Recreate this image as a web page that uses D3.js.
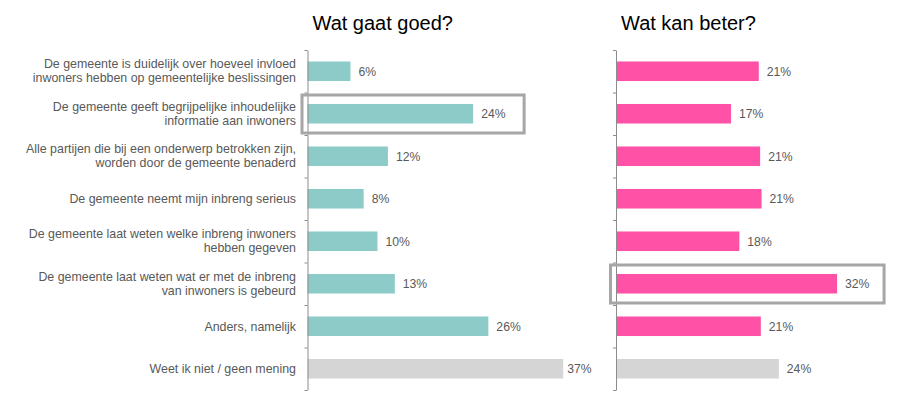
<!DOCTYPE html>
<html>
<head>
<meta charset="utf-8">
<script src="https://cdn.jsdelivr.net/npm/d3@7/dist/d3.min.js"></script>
<style>
  html, body { margin: 0; padding: 0; background: #fff; }
  svg { display: block; font-family: "Liberation Sans", Arial, sans-serif; }
</style>
</head>
<body>
<svg id="chart" width="911" height="408"></svg>
<script>
// ---- data ----
const categories = [
  "De gemeente is duidelijk over hoeveel invloed\ninwoners hebben op gemeentelijke beslissingen",
  "De gemeente geeft begrijpelijke inhoudelijke\ninformatie aan inwoners",
  "Alle partijen die bij een onderwerp betrokken zijn,\nworden door de gemeente benaderd",
  "De gemeente neemt mijn inbreng serieus",
  "De gemeente laat weten welke inbreng inwoners\nhebben gegeven",
  "De gemeente laat weten wat er met de inbreng\nvan inwoners is gebeurd",
  "Anders, namelijk",
  "Weet ik niet / geen mening"
];
const panelTitles = ["Wat gaat goed?", "Wat kan beter?"];
const goedValues   = [6.2, 23.9, 11.6, 8.1, 10.1, 12.6, 26.1, 36.9];
const beterValues  = [20.6, 16.6, 20.8, 21.0, 17.8, 31.9, 20.9, 23.5];
const goedLabels   = ["6%", "24%", "12%", "8%", "10%", "13%", "26%", "37%"];
const beterLabels  = ["21%", "17%", "21%", "21%", "18%", "32%", "21%", "24%"];
const highlightGoed  = "De gemeente geeft begrijpelijke inhoudelijke\ninformatie aan inwoners";
const highlightBeter = "De gemeente laat weten wat er met de inbreng\nvan inwoners is gebeurd";
const neutralCategory = "Weet ik niet / geen mening";

// ---- styles ----
const colTeal = "#8ccbc8", colPink = "#ff52a6", colGrey = "#d5d5d5";
const textCol = "#595959", axisCol = "#8c8c8c", boxCol = "#a6a6a6";

const svg = d3.select("#chart");

const y = d3.scaleBand().domain(categories).range([50, 390])
  .paddingInner(0.54).paddingOuter(0.27);
const yIdx = d3.scaleLinear().domain([0, categories.length]).range([50, 390]);

const panels = [
  { title: panelTitles[0], values: goedValues, labels: goedLabels, color: colTeal,
    x: d3.scaleLinear().domain([0, 40]).range([307.5, 307.5 + 40 * 6.93]),
    highlight: highlightGoed, boxExtra: 51 },
  { title: panelTitles[1], values: beterValues, labels: beterLabels, color: colPink,
    x: d3.scaleLinear().domain([0, 40]).range([616, 616 + 40 * 6.93]),
    highlight: highlightBeter, boxExtra: 47 }
];

// category labels
const catG = svg.append("g");
categories.forEach(c => {
  const lines = c.split("\n");
  const cy = y(c) + y.bandwidth() / 2;
  const t = catG.append("text")
    .attr("text-anchor", "end")
    .attr("font-size", 12.4)
    .attr("fill", textCol);
  lines.forEach((ln, i) => {
    const off = lines.length === 1 ? 0 : (i === 0 ? -7.5 : 6.5);
    t.append("tspan").attr("x", 296).attr("y", cy + off)
      .attr("dy", "0.35em").text(ln);
  });
});

panels.forEach(p => {
  const g = svg.append("g");
  const data = categories.map((c, i) => ({ c, v: p.values[i], l: p.labels[i] }));

  // title
  g.append("text")
    .attr("x", p.x(0) + 5).attr("y", 30)
    .attr("font-size", 20).attr("fill", "#000")
    .text(p.title);

  // bars
  g.selectAll("rect.bar").data(data).join("rect")
    .attr("class", "bar")
    .attr("x", p.x(0))
    .attr("y", d => y(d.c))
    .attr("width", d => p.x(d.v) - p.x(0))
    .attr("height", y.bandwidth())
    .attr("fill", d => d.c === neutralCategory ? colGrey : p.color);

  // value labels
  g.selectAll("text.val").data(data).join("text")
    .attr("class", "val")
    .attr("x", d => p.x(d.v) + (d.c === neutralCategory && d.v > 30 ? 4 : 8))
    .attr("y", d => y(d.c) + y.bandwidth() / 2)
    .attr("dy", "0.35em")
    .attr("font-size", 12.2).attr("fill", textCol)
    .text(d => d.l);

  // axis
  const ax = g.append("g")
    .attr("transform", `translate(${p.x(0)},0)`)
    .call(d3.axisLeft(yIdx).tickValues(d3.range(categories.length + 1))
      .tickFormat("").tickSize(3).tickSizeOuter(0));
  ax.selectAll("path, line").attr("stroke", axisCol);

  // highlight box
  const hd = data.find(d => d.c === p.highlight);
  const by0 = y(hd.c) - (y.step() - y.bandwidth()) / 2;
  g.append("rect")
    .attr("x", p.x(0) - 5.5)
    .attr("y", by0 + 2.5)
    .attr("width", p.x(hd.v) + p.boxExtra - (p.x(0) - 5.5))
    .attr("height", y.step() - 4.5)
    .attr("fill", "none")
    .attr("stroke", boxCol)
    .attr("stroke-width", 3);
});
</script>
</body>
</html>
